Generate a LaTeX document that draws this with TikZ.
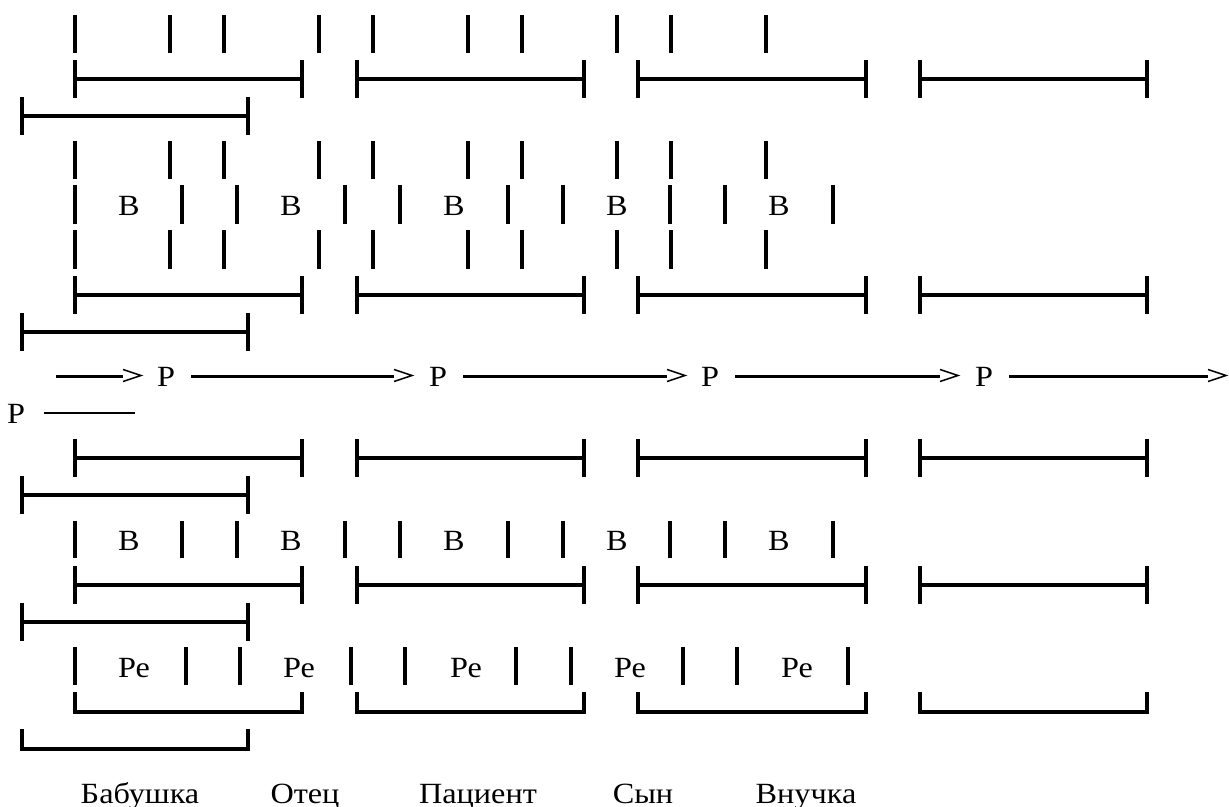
\documentclass[tikz,border=0pt]{standalone}
\usepackage{fontspec}
\setmainfont{Liberation Serif}
\newcommand\wideTxt[1]{\scalebox{1.1}[1]{#1}}
\begin{document}
\begin{tikzpicture}[x=0.75pt,y=-0.75pt,
  bar/.style={line width=2.4pt},
  seg/.style={line width=2.4pt},
  dashl/.style={line width=1.6pt},
  chev/.style={line width=1.1pt, line join=miter},
  lbl/.style={font=\fontsize{22}{22}\selectfont, inner sep=0pt, anchor=base}]
\useasboundingbox (0,0) rectangle (1229,807);
% plain vertical bar rows
\foreach \ya/\yb in {15/53,141/179,230/269}
  \foreach \x in {75,170,224,319,373,468,522,617,671,766}
    \draw[bar] (\x,\ya) -- (\x,\yb);
% tee segments, four per row
\foreach \y in {79,295,458,585}
  \foreach \a/\b in {75/302,357/584,638/866,920/1147}
    \draw[seg] (\a,\y-19) -- (\a,\y+19) (\a,\y) -- (\b,\y) (\b,\y-19) -- (\b,\y+19);
% tee segments, wrapped
\foreach \y in {116,332,495,622}
  \draw[seg] (22,\y-19) -- (22,\y+19) (22,\y) -- (248,\y) (248,\y-19) -- (248,\y+19);
% B rows
\foreach \ya/\yb/\yt in {185/224/215,521/558/550}{
  \foreach \x in {75,182,237,345,400,508,563,670,725,833}
    \draw[bar] (\x,\ya) -- (\x,\yb);
  \foreach \x [count=\i] in {129,291,454,617,779}
    \node[lbl] (b\i\ya) at (\x,\yt) {\wideTxt{В}};
}
% Pe row
\foreach \x in {75,186,240,351,405,516,571,683,737,848}
  \draw[bar] (\x,647) -- (\x,685);
\foreach \x [count=\i] in {134,299,466,630,797}
  \node[lbl] (pe\i) at (\x,677) {\wideTxt{Ре}};
% bracket segments
\foreach \a/\b in {75/302,357/584,638/866,920/1147}
  \draw[seg] (\a,692) -- (\a,712) -- (\b,712) -- (\b,692);
\draw[seg] (22,729) -- (22,749) -- (248,749) -- (248,729);
% arrow row
\node[lbl] (p1) at (166,386) {\wideTxt{Р}};
\node[lbl] (p2) at (438,386) {\wideTxt{Р}};
\node[lbl] (p3) at (710,386) {\wideTxt{Р}};
\node[lbl] (p4) at (984,386) {\wideTxt{Р}};
\node[lbl] (p5) at (16,423) {\wideTxt{Р}};
\foreach \s/\e/\t in {56/123/141,191/394/412,463/667/685,735/940/958,1009/1208/1226}{
  \draw[dashl] (\s,376.5) -- (\e,376.5);
  \draw[chev] (\t-18,369.5) -- (\t,375.5) -- (\t-18,381.5);
}
\draw[dashl] (44,413) -- (135,413);
% labels
\node[lbl] (l1) at (140,803) {\wideTxt{Бабушка}};
\node[lbl] (l2) at (305,803) {\wideTxt{Отец}};
\node[lbl] (l3) at (478,803) {\wideTxt{Пациент}};
\node[lbl] (l4) at (643,803) {\wideTxt{Сын}};
\node[lbl] (l5) at (806,803) {\wideTxt{Внучка}};
\end{tikzpicture}
\end{document}
